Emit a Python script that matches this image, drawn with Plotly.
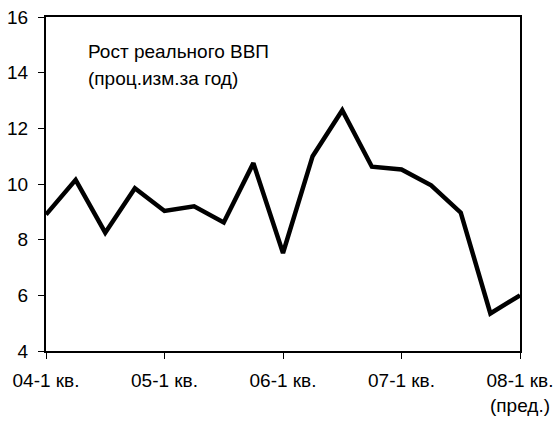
import plotly.graph_objects as go

quarters = list(range(17))
gdp_growth = [8.9, 10.15, 8.25, 9.85, 9.03, 9.2, 8.62, 10.75, 7.52, 11.0,
              12.65, 10.62, 10.52, 9.95, 8.97, 5.35, 6.0]
tick_positions = [0, 4, 8, 12, 16]
tick_labels = ["04-1 кв.", "05-1 кв.", "06-1 кв.", "07-1 кв.", "08-1 кв.<br>(пред.)"]
y_ticks = [4, 6, 8, 10, 12, 14, 16]

fig = go.Figure()
fig.add_trace(go.Scatter(x=quarters, y=gdp_growth, mode="lines",
                         line=dict(color="black", width=4.5),
                         showlegend=False, hoverinfo="skip"))

fig.update_layout(
    width=557, height=424,
    margin=dict(l=46, r=37, t=17, b=73, autoexpand=False),
    paper_bgcolor="white", plot_bgcolor="white",
    font=dict(family="Liberation Sans, Arial, sans-serif", size=19, color="black"),
)
fig.update_xaxes(range=[0, 16], tickvals=tick_positions, ticktext=tick_labels,
                 ticks="outside", ticklen=6, tickcolor="black", tickwidth=1,
                 showline=True, linecolor="black", linewidth=2, mirror=True,
                 showgrid=False, zeroline=False, fixedrange=True, automargin=False,
                 tickfont=dict(size=19), ticklabelstandoff=5)
fig.update_yaxes(range=[4, 16], tickvals=y_ticks,
                 ticks="outside", ticklen=6, tickcolor="black", tickwidth=1,
                 showline=True, linecolor="black", linewidth=2, mirror=True,
                 showgrid=False, zeroline=False, fixedrange=True, automargin=False,
                 tickfont=dict(size=19), ticklabelstandoff=6)

fig.add_annotation(text="Рост реального ВВП", xref="paper", yref="paper",
                   x=(86 - 46) / 474, y=(334 - (51 - 17)) / 334,
                   xanchor="left", yanchor="middle", showarrow=False,
                   font=dict(size=19))
fig.add_annotation(text="(проц.изм.за год)", xref="paper", yref="paper",
                   x=(86 - 46) / 474, y=(334 - (78 - 17)) / 334,
                   xanchor="left", yanchor="middle", showarrow=False,
                   font=dict(size=19))

fig.write_html("out.html", config={"displayModeBar": False},
               post_script="document.body.style.margin='0';document.body.style.padding='0';")
